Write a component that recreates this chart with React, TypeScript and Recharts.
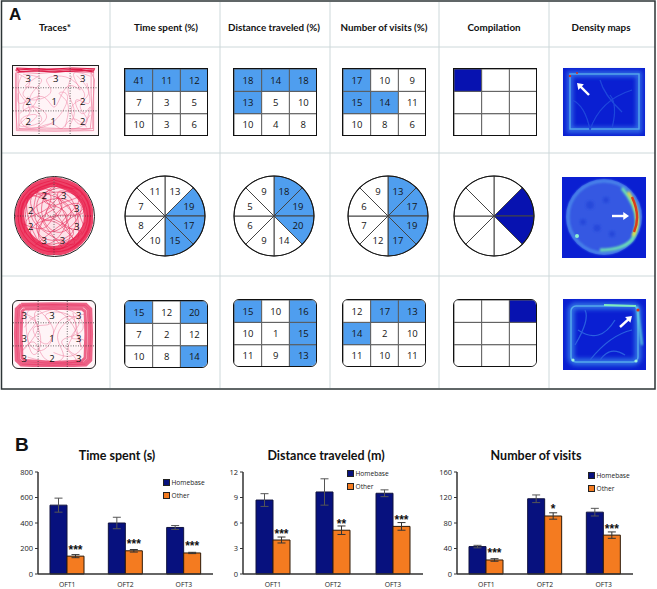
import React from 'react';
import { BarChart, Bar, Cell, XAxis, YAxis, LabelList, ErrorBar, Legend, PieChart, Pie, LineChart, Line, ReferenceLine } from 'recharts';

const FONT = '"Open Sans", sans-serif';
const BLUE = '#4f9eef';
const DARK = '#0712b0';

// ---------- Panel A data ----------
const headers = ['Traces*', 'Time spent (%)', 'Distance traveled (%)', 'Number of visits (%)', 'Compilation', 'Density maps'];

const timeSquare = [[41, 11, 12], [7, 3, 5], [10, 3, 6]];
const distSquare = [[18, 14, 18], [13, 5, 10], [10, 4, 8]];
const visitSquare = [[17, 10, 9], [15, 14, 11], [10, 8, 6]];
const timeSquareHi = [[1, 1, 1], [0, 0, 0], [0, 0, 0]];
const distSquareHi = [[1, 1, 1], [1, 0, 0], [0, 0, 0]];
const visitSquareHi = [[1, 0, 0], [1, 1, 0], [0, 0, 0]];
const compSquareHi = [[1, 0, 0], [0, 0, 0], [0, 0, 0]];

const timeRound = [13, 19, 17, 15, 10, 8, 7, 11];
const distRound = [18, 19, 20, 14, 9, 6, 5, 9];
const visitRound = [13, 17, 19, 17, 12, 7, 6, 9];
const timeRoundHi = [0, 1, 1, 1, 0, 0, 0, 0];
const distRoundHi = [1, 1, 1, 0, 0, 0, 0, 0];
const visitRoundHi = [1, 1, 1, 1, 0, 0, 0, 0];
const compRoundHi = [0, 1, 1, 0, 0, 0, 0, 0];

const timeRect = [[15, 12, 20], [7, 2, 12], [10, 8, 14]];
const distRect = [[15, 10, 16], [10, 1, 15], [11, 9, 13]];
const visitRect = [[12, 17, 13], [14, 2, 10], [11, 10, 11]];
const timeRectHi = [[1, 0, 1], [0, 0, 0], [0, 0, 1]];
const distRectHi = [[1, 0, 1], [0, 0, 1], [0, 0, 1]];
const visitRectHi = [[0, 1, 1], [1, 0, 0], [0, 0, 0]];
const compRectHi = [[0, 0, 1], [0, 0, 0], [0, 0, 0]];

// ---------- Trace data (read by eye, percent of the arena box) ----------
type P = { x: number; y: number; t?: number };
const pts = (a: number[][]): P[] => a.map(([x, y, t]) => ({ x, y, t }));

const squareLabels = pts([[18, 18, 3], [51, 18, 3], [83, 18, 3], [18, 52, 2], [49, 52, 1], [83, 52, 2], [18, 82, 2], [48, 82, 1], [83, 82, 2]]);
const squareRim = [
  pts([[4, 5], [50, 4], [96, 5], [96, 50], [96, 95], [50, 96], [4, 95], [4, 50], [4, 5]]),
  pts([[6, 9], [30, 11], [60, 8], [93, 10], [93, 40], [94, 70], [92, 92], [60, 92], [30, 91], [7, 92], [7, 60], [6, 30], [6, 9]]),
  pts([[3, 10], [3, 60], [5, 93], [40, 94], [80, 94], [95, 92], [95, 60], [97, 20], [92, 6]]),
];
const squareTop = [
  pts([[4, 3], [40, 5], [70, 3], [97, 4], [96, 7], [60, 8], [35, 7], [8, 8], [4, 3]]),
  pts([[3, 6], [30, 4], [55, 6], [80, 5], [96, 9]]),
  pts([[5, 9], [25, 7], [50, 9], [75, 7], [95, 6]]),
];
const squareScribble = [
  pts([[7, 12], [20, 25], [12, 40], [25, 50], [45, 38], [40, 20], [58, 15], [75, 25], [85, 45], [70, 60], [78, 85], [92, 72]]),
  pts([[8, 70], [25, 60], [40, 75], [30, 90], [50, 80], [65, 45], [55, 40], [65, 55], [62, 90]]),
  pts([[92, 15], [72, 12], [80, 35], [65, 30], [50, 60], [35, 45], [10, 55], [6, 40]]),
  pts([[15, 88], [28, 72], [10, 78], [22, 92], [45, 85], [58, 92], [70, 78], [88, 90]]),
  pts([[88, 25], [90, 55], [75, 50], [82, 70], [92, 60], [86, 88]]),
  pts([[30, 15], [15, 30], [30, 35], [22, 62], [12, 62], [18, 45]]),
  pts([[70, 15], [66, 40], [73, 70], [68, 92], [88, 82], [80, 60], [90, 40], [76, 14]]),
  pts([[10, 15], [8, 40], [20, 68], [8, 88], [34, 80], [20, 50], [34, 22], [12, 12]]),
];

const roundLabels = pts([[37.5, 24, 2], [62.5, 24, 3], [20, 42.5, 2], [79, 41, 3], [20, 64, 2], [79, 64, 3], [37.5, 81, 3], [61, 81, 3]]);
const roundRim = [
  pts([[50, 2], [84, 16], [98, 50], [84, 84], [50, 98], [16, 84], [2, 50], [16, 16], [50, 2]]),
  pts([[50, 6], [82, 19], [95, 50], [82, 82], [50, 94], [19, 81], [6, 50], [19, 19], [50, 6]]),
  pts([[50, 9], [78, 22], [91, 50], [79, 78], [50, 91], [22, 78], [9, 50], [21, 22], [50, 9]]),
];
const roundScribble = [
  pts([[12, 40], [35, 15], [60, 35], [40, 55], [20, 30], [50, 12], [82, 30], [60, 60], [85, 70], [55, 88]]),
  pts([[25, 82], [15, 55], [42, 40], [70, 18], [88, 45], [50, 50], [30, 72], [60, 80], [78, 55], [52, 25]]),
  pts([[30, 15], [25, 50], [48, 70], [72, 45], [42, 22], [15, 35], [35, 88], [68, 86], [90, 58]]),
  pts([[55, 10], [38, 32], [66, 48], [45, 85], [20, 70], [52, 58], [80, 80], [72, 28], [30, 25]]),
  pts([[10, 60], [38, 65], [58, 42], [85, 38], [62, 70], [35, 50], [45, 15], [75, 15]]),
  pts([[18, 22], [52, 38], [28, 60], [50, 92], [70, 68], [55, 20], [88, 32], [68, 55], [25, 88]]),
  pts([[14, 28], [46, 28], [32, 82], [75, 72], [40, 45], [84, 24], [58, 14], [28, 38], [62, 92]]),
  pts([[88, 62], [62, 28], [22, 44], [44, 74], [76, 86], [56, 52], [22, 18], [12, 72]]),
];

const rectLabels = pts([[14, 22, 3], [48, 22, 3], [81, 22, 3], [14, 57, 3], [48, 57, 1], [81, 57, 3], [14, 88, 3], [48, 88, 2], [81, 88, 3]]);
const rectRim = [
  pts([[10, 5], [50, 4], [90, 5], [96, 12], [97, 50], [96, 90], [90, 97], [50, 99], [10, 97], [4, 90], [3, 50], [4, 12], [10, 5]]),
  pts([[11, 8], [50, 7], [88, 8], [93, 14], [94, 50], [93, 88], [88, 94], [50, 96], [12, 94], [7, 88], [6, 50], [7, 14], [11, 8]]),
  pts([[14, 12], [50, 11], [85, 12], [89, 16], [90, 50], [89, 86], [85, 91], [50, 93], [14, 90], [11, 86], [10, 50], [11, 16], [14, 12]]),
];
const rectScribble = [
  pts([[12, 18], [28, 32], [18, 55], [35, 75], [50, 45], [40, 22], [62, 18], [78, 40], [68, 70], [85, 85]]),
  pts([[88, 20], [70, 28], [55, 55], [62, 85], [40, 88], [25, 62], [12, 75], [30, 45], [20, 25]]),
  pts([[30, 12], [45, 35], [25, 42], [42, 65], [58, 30], [82, 30], [72, 55], [88, 60], [75, 82], [50, 78]]),
  pts([[14, 40], [32, 20], [70, 14], [85, 45], [60, 62], [78, 90], [45, 92], [18, 85]]),
  pts([[20, 14], [16, 34], [24, 80], [34, 55], [28, 16], [66, 24], [84, 70], [74, 18]]),
];

// ---------- Panel B data ----------
const trials = ['OFT1', 'OFT2', 'OFT3'];
const timeHome = [540, 400, 365];
const timeOther = [140, 182, 165];
const timeHomeErr = [55, 45, 15];
const timeOtherErr = [12, 10, 5];
const timeStars = ['***', '***', '***'];
const distHome = [8.7, 9.65, 9.5];
const distOther = [4.0, 5.15, 5.6];
const distHomeErr = [0.75, 1.55, 0.4];
const distOtherErr = [0.35, 0.5, 0.45];
const distStars = ['***', '**', '***'];
const visitHome = [43, 118, 97];
const visitOther = [22, 91, 61];
const visitHomeErr = [2, 6, 6];
const visitOtherErr = [2, 5, 5];
const visitStars = ['***', '*', '***'];

// ---------- Grid panel ----------
function GridCard({ left, top, w = 84, h = 68, values, hi, color = BLUE, radius = 0 }: any) {
  const inner = w - 2, innerH = h - 2;
  const rows = [2, 1, 0];
  const data = [0, 1, 2].map((c) => {
    const o: any = { c };
    [0, 1, 2].forEach((r) => {
      o['s' + r] = 1;
      o['v' + r] = values ? values[r][c] : '';
    });
    return o;
  });
  return (
    <div style={{ position: 'absolute', left, top, width: w, height: h, boxSizing: 'border-box', border: '1.5px solid #111', borderRadius: radius, overflow: 'hidden', background: '#fff' }}>
      <BarChart width={inner + 1} height={innerH + 1} data={data} margin={{ top: 0, right: 0, bottom: 0, left: 0 }} barCategoryGap={0} barGap={0}>
        <XAxis dataKey="c" hide />
        <YAxis hide domain={[0, 3]} />
        {rows.map((r) => (
          <Bar key={r} dataKey={'s' + r} stackId="g" stroke="#5a5a5a" strokeWidth={1} isAnimationActive={false}>
            {[0, 1, 2].map((c) => (
              <Cell key={c} fill={hi[r][c] ? color : '#ffffff'} />
            ))}
            {values ? <LabelList dataKey={'v' + r} position="center" fill="#141414" fontSize={9.5} fontFamily={FONT} /> : null}
          </Bar>
        ))}
      </BarChart>
    </div>
  );
}

// ---------- Pie panel ----------
const RADIAN = Math.PI / 180;
function RoundCard({ cx, cy, values, hi, color = BLUE }: any) {
  const data = hi.map((h: number, i: number) => ({ size: 1, value: values ? values[i] : '', h }));
  const renderLabel = (p: any) => {
    if (!values) return null;
    const a = -p.midAngle * RADIAN;
    return (
      <text x={p.cx + 26 * Math.cos(a)} y={p.cy + 26 * Math.sin(a)} textAnchor="middle" dominantBaseline="central" fontSize={9.5} fontFamily={FONT} fill="#141414">
        {p.payload.value}
      </text>
    );
  };
  return (
    <div style={{ position: 'absolute', left: cx - 43, top: cy - 43 }}>
      <PieChart width={86} height={86} margin={{ top: 0, right: 0, bottom: 0, left: 0 }}>
        <Pie data={data} dataKey="size" cx={43} cy={43} innerRadius={0} outerRadius={40} startAngle={90} endAngle={-270} stroke="#444" strokeWidth={1} label={renderLabel} labelLine={false} isAnimationActive={false}>
          {data.map((d: any, i: number) => (
            <Cell key={i} fill={d.h ? color : '#ffffff'} />
          ))}
        </Pie>
        <Pie data={[{ size: 1 }]} dataKey="size" cx={43} cy={43} innerRadius={39.5} outerRadius={40.5} fill="#111" stroke="none" isAnimationActive={false} />
      </PieChart>
    </div>
  );
}

// ---------- Trace panel ----------
function TraceCard({ left, top, w, h, radius, rim, rimWidth, rimColor, extra, scribble, scribbleColor, labels, vx, vy, wash, round }: any) {
  let k = 0;
  return (
    <div style={{ position: 'absolute', left, top, width: w, height: h, boxSizing: 'border-box', border: '1.5px solid #222', borderRadius: radius, overflow: 'hidden', background: wash }}>
      <LineChart width={w - 3} height={h - 3} margin={{ top: 0, right: 0, bottom: 0, left: 0 }}>
        <XAxis type="number" dataKey="x" domain={[0, 100]} hide allowDuplicatedCategory={false} />
        <YAxis type="number" domain={[0, 100]} reversed hide />
        {scribble.map((p: P[]) => (
          <Line key={k++} data={p} dataKey="y" type="natural" dot={false} stroke={scribbleColor} strokeWidth={0.6} isAnimationActive={false} />
        ))}
        {rim.map((p: P[]) => (
          <Line key={k++} data={p} dataKey="y" type={round ? 'natural' : 'linear'} dot={false} stroke={rimColor} strokeWidth={rimWidth} strokeOpacity={0.8} isAnimationActive={false} />
        ))}
        {(extra || []).map((p: P[]) => (
          <Line key={k++} data={p} dataKey="y" type="linear" dot={false} stroke="#dd1c48" strokeWidth={1.1} isAnimationActive={false} />
        ))}
        {vx.map((x: number) => (
          <ReferenceLine key={'x' + x} x={x} stroke="#333" strokeWidth={0.7} strokeDasharray="1 1.5" />
        ))}
        {vy.map((y: number) => (
          <ReferenceLine key={'y' + y} y={y} stroke="#333" strokeWidth={0.7} strokeDasharray="1 1.5" />
        ))}
        <Line data={labels} dataKey="y" stroke="none" dot={false} isAnimationActive={false}>
          <LabelList dataKey="t" position="center" fill="#111" fontSize={9.5} fontFamily={FONT} />
        </Line>
      </LineChart>
    </div>
  );
}

// ---------- Bar panel ----------
function StarLabel(props: any) {
  const { x, y, width, value } = props;
  return (
    <text x={x + width / 2} y={y - 2.5} textAnchor="middle" fontSize={12} fontWeight={700} fontFamily={'"Liberation Sans", sans-serif'} fill="#111">
      {value}
    </text>
  );
}

function LegendBox({ payload }: any) {
  return (
    <div style={{ fontFamily: FONT, fontSize: 6.6, color: '#222', lineHeight: '13px' }}>
      {(payload || []).map((e: any) => (
        <div key={e.value} style={{ display: 'flex', alignItems: 'center', height: 13 }}>
          <span style={{ width: 5, height: 5, background: e.color, border: '0.5px solid #222', marginRight: 1.5, display: 'inline-block' }} />
          {e.value}
        </div>
      ))}
    </div>
  );
}

function BarPanel({ left, plotW, axisX, home, other, homeErr, otherErr, stars, max, ticks, title, titleX, legendX, legendY }: any) {
  const data = trials.map((t, i) => ({ t, Homebase: home[i], Other: other[i], he: homeErr[i], oe: otherErr[i], s: stars[i] }));
  const boxLeft = left;
  const yW = axisX - boxLeft;
  return (
    <>
      <div style={{ position: 'absolute', left: titleX - 80, width: 160, top: 447, textAlign: 'center', fontFamily: '"Lato", sans-serif', fontWeight: 700, fontSize: 12.5, color: '#111', lineHeight: '18px' }}>{title}</div>
      <div style={{ position: 'absolute', left: boxLeft, top: 462 }}>
        <BarChart width={yW + plotW + 2} height={127} data={data} margin={{ top: 10, right: 2, bottom: 0, left: 0 }} barSize={17} barGap={0}>
          <XAxis dataKey="t" tickLine={false} height={15} axisLine={{ stroke: '#333', strokeWidth: 1.5 }} tick={{ fontSize: 6.8, fontFamily: FONT, fill: '#222' }} interval={0} tickMargin={2} />
          <YAxis domain={[0, max]} ticks={ticks} width={yW} tickSize={3} axisLine={{ stroke: '#333', strokeWidth: 1.5 }} tickLine={{ stroke: '#333' }} tick={{ fontSize: 7.5, fontFamily: FONT, fill: '#222' }} interval={0} />
          <Legend layout="vertical" align="center" verticalAlign="middle" content={<LegendBox />} wrapperStyle={{ left: legendX - boxLeft, top: legendY - 462, width: 60 }} />
          <Bar dataKey="Homebase" fill="#07117e" stroke="#10133f" strokeWidth={1} isAnimationActive={false}>
            <ErrorBar dataKey="he" width={4} stroke="#555" strokeWidth={1} />
          </Bar>
          <Bar dataKey="Other" fill="#f47b20" stroke="#2e1a08" strokeWidth={1} isAnimationActive={false}>
            <ErrorBar dataKey="oe" width={4} stroke="#333" strokeWidth={1} />
            <LabelList dataKey="s" content={<StarLabel />} />
          </Bar>
        </BarChart>
      </div>
    </>
  );
}

// ---------- Density maps (decorative heat images) ----------
function Arrow({ x1, y1, x2, y2 }: any) {
  const a = Math.atan2(y2 - y1, x2 - x1);
  const s = 7;
  const p = (d: number) => `${x2 - s * Math.cos(a + d)},${y2 - s * Math.sin(a + d)}`;
  return (
    <g>
      <line x1={x1} y1={y1} x2={x2 - 3 * Math.cos(a)} y2={y2 - 3 * Math.sin(a)} stroke="#fff" strokeWidth={2.4} />
      <polygon points={`${x2},${y2} ${p(0.6)} ${p(-0.6)}`} fill="#fff" />
    </g>
  );
}

function FrameLayer() {
  const colX = [110, 220, 330, 439, 549];
  const rowY = [47, 153, 276];
  const centers = [55, 166, 274, 384, 494, 601];
  return (
    <svg width={657} height={589} style={{ position: 'absolute', left: 0, top: 0 }}>
      <defs>
        <filter id="b1" x="-30%" y="-30%" width="160%" height="160%"><feGaussianBlur stdDeviation="1" /></filter>
        <filter id="b2" x="-30%" y="-30%" width="160%" height="160%"><feGaussianBlur stdDeviation="0.6" /></filter>
        <filter id="b3" x="-30%" y="-30%" width="160%" height="160%"><feGaussianBlur stdDeviation="2.2" /></filter>
      </defs>
      {colX.map((x) => <line key={x} x1={x} x2={x} y1={2} y2={388} stroke="#cdd8da" strokeWidth={1} />)}
      {rowY.map((y) => <line key={y} x1={2} x2={655} y1={y} y2={y} stroke="#cdd8da" strokeWidth={1} />)}
      <rect x={1.5} y={1} width={653.5} height={388} fill="none" stroke="#2c3436" strokeWidth={1.5} />
      <text x={9} y={20} fontFamily='"Liberation Sans", sans-serif' fontWeight={700} fontSize={17} fill="#111">A</text>
      <text x={15} y={451} fontFamily='"Liberation Sans", sans-serif' fontWeight={700} fontSize={19} fill="#111">B</text>
      {headers.map((h, i) => (
        <text key={h} x={centers[i]} y={31} textAnchor="middle" fontFamily='"Lato", sans-serif' fontWeight={700} fontSize={9.8} fill="#111">{h}</text>
      ))}

      {/* density map 1 */}
      <rect x={563} y={68} width={82} height={68} fill="#0a1fd2" />
      <rect x={570} y={74} width={69} height={56} fill="none" stroke="#2f66e4" strokeWidth={6} filter="url(#b3)" />
      <rect x={570} y={74} width={69} height={55} fill="none" stroke="#55a8ec" strokeWidth={1.4} filter="url(#b2)" />
      <path d="M590 130 Q600 100 632 90 M612 128 Q618 105 610 95 M572 100 Q585 105 590 130 M600 80 Q604 95 622 112" fill="none" stroke="#1f48dc" strokeWidth={1.2} filter="url(#b2)" />
      <line x1={569} y1={73} x2={585} y2={73} stroke="#8ef0b4" strokeWidth={3} filter="url(#b2)" />
      <circle cx={570} cy={76} r={1.2} fill="#d8301c" />
      <circle cx={577} cy={73} r={1} fill="#d8301c" />
      <Arrow x1={589} y1={95} x2={577} y2={83} />

      {/* density map 2 */}
      <rect x={562} y={177} width={84} height={81} fill="#0a1fd2" />
      <circle cx={604} cy={217} r={38} fill="#3558e2" filter="url(#b2)" />
      <circle cx={604} cy={217} r={36} fill="none" stroke="#4a86ea" strokeWidth={3} filter="url(#b1)" />
      <g fill="#2748da" filter="url(#b1)">
        <circle cx={590} cy={205} r={4} /><circle cx={606} cy={200} r={3} /><circle cx={597} cy={228} r={3.5} /><circle cx={583} cy={222} r={3} /><circle cx={612} cy={234} r={3} />
      </g>
      <path d="M622 188 Q645 215 632 240 Q622 250 600 250" fill="none" stroke="#6fe8b0" strokeWidth={3} filter="url(#b1)" />
      <path d="M628 192 Q644 216 633 236" fill="none" stroke="#e8e040" strokeWidth={3} filter="url(#b1)" />
      <path d="M632 197 Q641 216 634 232" fill="none" stroke="#d83a1c" strokeWidth={2.5} filter="url(#b2)" />
      <circle cx={577} cy={236} r={2} fill="#8ef0d0" filter="url(#b2)" />
      <Arrow x1={612} y1={216} x2={629} y2={216} />

      {/* density map 3 */}
      <rect x={563} y={299} width={83} height={71} fill="#0a1fd2" />
      <rect x={571} y={306} width={67} height={56} rx={5} fill="none" stroke="#2f6ee4" strokeWidth={7} filter="url(#b3)" />
      <rect x={571} y={306} width={67} height={56} rx={5} fill="none" stroke="#55a8ec" strokeWidth={1.5} filter="url(#b2)" />
      <path d="M575 345 Q590 320 585 310 M590 360 Q610 335 632 330 M600 360 Q610 345 625 355 M578 330 Q600 345 615 320" fill="none" stroke="#2a60e0" strokeWidth={1.2} filter="url(#b2)" />
      <line x1={573} y1={307} x2={593} y2={307} stroke="#98f0a0" strokeWidth={3.5} filter="url(#b2)" />
      <line x1={604} y1={305} x2={636} y2={306} stroke="#80ecc0" strokeWidth={2.2} filter="url(#b2)" />
      <line x1={637} y1={306} x2={642} y2={345} stroke="#60d8e0" strokeWidth={2} filter="url(#b1)" />
      <circle cx={638} cy={310} r={1.6} fill="#d8301c" />
      <circle cx={573} cy={360} r={1.6} fill="#9af0e0" filter="url(#b2)" />
      <circle cx={636} cy={361} r={1.6} fill="#9af0e0" filter="url(#b2)" />
      <Arrow x1={620} y1={327} x2={632} y2={316} />
    </svg>
  );
}

export default function App() {
  return (
    <div style={{ position: 'absolute', left: 0, top: 0, width: 657, height: 589, background: '#fff', overflow: 'hidden' }}>
      <FrameLayer />

      <TraceCard left={12} top={65} w={87} h={71} radius={0} rim={squareRim} rimWidth={0.9} rimColor="#ee7a9a" extra={squareTop} scribble={squareScribble} scribbleColor="#f28fac" labels={squareLabels} vx={[31, 68]} vy={[32, 66]} wash="#fff4f7" />
      <GridCard left={124} top={68} values={timeSquare} hi={timeSquareHi} />
      <GridCard left={233} top={68} values={distSquare} hi={distSquareHi} />
      <GridCard left={342} top={68} values={visitSquare} hi={visitSquareHi} />
      <GridCard left={453} top={68} hi={compSquareHi} color={DARK} />

      <TraceCard left={14} top={176} w={81} h={81} radius={41} rim={roundRim} rimWidth={4.2} rimColor="#e81c48" scribble={roundScribble} scribbleColor="#e8305e" labels={roundLabels} vx={[50]} vy={[50]} wash="#fde2e9" round />
      <RoundCard cx={165} cy={216} values={timeRound} hi={timeRoundHi} />
      <RoundCard cx={274} cy={216} values={distRound} hi={distRoundHi} />
      <RoundCard cx={388} cy={216} values={visitRound} hi={visitRoundHi} />
      <RoundCard cx={494} cy={216} hi={compRoundHi} color={DARK} />

      <TraceCard left={12} top={300} w={84} h={69} radius={6} rim={rectRim} rimWidth={3} rimColor="#e8406c" scribble={rectScribble} scribbleColor="#f08aa8" labels={rectLabels} vx={[31, 67]} vy={[33, 68]} wash="#fff4f7" />
      <GridCard left={124} top={300} values={timeRect} hi={timeRectHi} radius={6} />
      <GridCard left={233} top={299} values={distRect} hi={distRectHi} radius={6} />
      <GridCard left={342} top={299} values={visitRect} hi={visitRectHi} radius={6} />
      <GridCard left={453} top={299} hi={compRectHi} color={DARK} radius={6} />

      <BarPanel left={4} axisX={38} plotW={175} home={timeHome} other={timeOther} homeErr={timeHomeErr} otherErr={timeOtherErr} stars={timeStars} max={800} ticks={[0, 200, 400, 600, 800]} title="Time spent (s)" titleX={117} legendX={163} legendY={476} />
      <BarPanel left={222} axisX={243} plotW={180} home={distHome} other={distOther} homeErr={distHomeErr} otherErr={distOtherErr} stars={distStars} max={12} ticks={[0, 3, 6, 9, 12]} title="Distance traveled (m)" titleX={326} legendX={347} legendY={467} />
      <BarPanel left={437} axisX={457} plotW={176} home={visitHome} other={visitOther} homeErr={visitHomeErr} otherErr={visitOtherErr} stars={visitStars} max={160} ticks={[0, 40, 80, 120, 160]} title="Number of visits" titleX={536} legendX={588} legendY={469} />
    </div>
  );
}
